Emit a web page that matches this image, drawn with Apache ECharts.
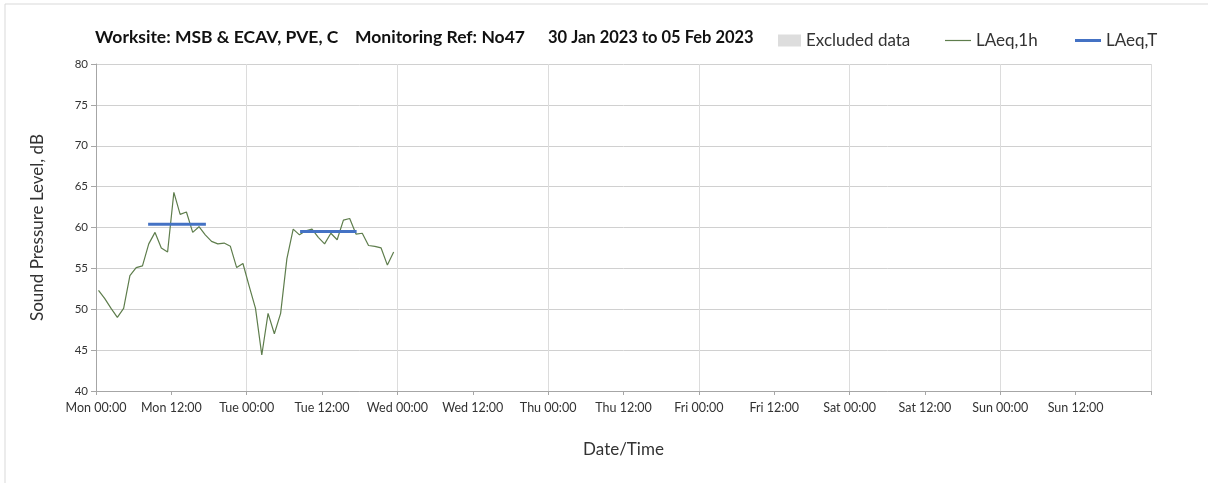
<!DOCTYPE html>
<html>
<head>
<meta charset="utf-8">
<script src="https://cdn.jsdelivr.net/npm/echarts@6/dist/echarts.min.js"></script>
<style>
  html, body { margin: 0; padding: 0; background: #fff; }
  #chart { width: 1208px; height: 483px; }
</style>
</head>
<body>
<div id="chart"></div>
<script>
// 时间轴标签（每12小时）
var tickLabels = ['Mon 00:00', 'Mon 12:00', 'Tue 00:00', 'Tue 12:00', 'Wed 00:00', 'Wed 12:00',
  'Thu 00:00', 'Thu 12:00', 'Fri 00:00', 'Fri 12:00', 'Sat 00:00', 'Sat 12:00', 'Sun 00:00', 'Sun 12:00']

// LAeq,1h 逐小时数据（从周一 00:00 起，单位 dB）
var firstHour = 0.4
var laeq1h = [52.3, 51.3, 50.1, 49.0, 50.1, 54.1, 55.1, 55.3, 58.0, 59.4, 57.5, 57.0,
  64.3, 61.6, 61.9, 59.4, 60.1, 59.1, 58.3, 58.0, 58.1, 57.7, 55.1, 55.6,
  52.8, 50.1, 44.4, 49.5, 47.0, 49.5, 56.2, 59.8, 59.1, 59.6, 59.8, 58.8,
  58.0, 59.3, 58.5, 60.9, 61.1, 59.2, 59.3, 57.8, 57.7, 57.5, 55.4, 57.0]

// LAeq,T 时段
var laeqTStart = [8.3, 32.5]
var laeqTEnd = [17.5, 41.5]
var laeqTValue = [60.4, 59.5]

var lineData = laeq1h.map(function(v, i) { return [firstHour + i, v] })

var series = [{
  name: 'Excluded data',
  type: 'scatter',
  data: [],
  itemStyle: { color: '#d4d4d4' }
}, {
  name: 'LAeq,1h',
  type: 'line',
  symbol: 'none',
  data: lineData,
  lineStyle: { width: 1.2, color: '#5e7d4c' },
  itemStyle: { color: '#5e7d4c' },
  z: 3
}]
laeqTStart.forEach(function(s, i) {
  series.push({
    name: 'LAeq,T',
    type: 'line',
    symbol: 'none',
    data: [[s, laeqTValue[i]], [laeqTEnd[i], laeqTValue[i]]],
    lineStyle: { width: 3, color: '#4472c4' },
    itemStyle: { color: '#4472c4' },
    z: 4
  })
})

var font = 'Lato, "Open Sans", sans-serif'
var legendText = { fontSize: 17, color: '#333', fontFamily: font }

var option = {
  animation: false,
  textStyle: { fontFamily: font },
  graphic: [{
    type: 'rect',
    shape: { x: 5, y: 4, width: 1400, height: 700 },
    style: { fill: 'none', stroke: '#d9d9d9', lineWidth: 1 }
  }],
  title: [
    { text: 'Worksite: MSB & ECAV, PVE, C', left: 90, top: 23, size: 17.5 },
    { text: 'Monitoring Ref: No47', left: 350, top: 23, size: 17.5 },
    { text: '30 Jan 2023 to 05 Feb 2023', left: 543, top: 24, size: 16.5 }
  ].map(function(t) {
    t.textStyle = { fontSize: t.size, fontWeight: 'bold', color: '#111', fontFamily: font }
    delete t.size
    return t
  }),
  legend: [
    { data: [{ name: 'Excluded data', icon: 'rect' }], left: 773, top: 27, itemWidth: 23, itemHeight: 12, itemGap: 4, textStyle: legendText },
    { data: [{ name: 'LAeq,1h', icon: 'rect' }], left: 940, top: 27, itemWidth: 26, itemHeight: 1.2, textStyle: legendText },
    { data: [{ name: 'LAeq,T', icon: 'rect' }], left: 1070, top: 27, itemWidth: 26, itemHeight: 3, textStyle: legendText }
  ],
  grid: {
    left: 96,
    right: 57,
    top: 64,
    bottom: 92
  },
  xAxis: {
    type: 'value',
    min: 0,
    max: 168,
    interval: 12,
    name: 'Date/Time',
    nameLocation: 'middle',
    nameGap: 50,
    nameTextStyle: { fontSize: 17, color: '#333' },
    axisLine: { lineStyle: { color: '#a6a6a6' } },
    axisTick: { show: true, length: 4, lineStyle: { color: '#a6a6a6' } },
    axisLabel: {
      fontSize: 12.5,
      color: '#333',
      margin: 10,
      formatter: function(v) { return tickLabels[v / 12] || '' }
    },
    splitLine: {
      show: true,
      lineStyle: { color: ['#dcdcdc', 'rgba(0,0,0,0)'] }
    }
  },
  yAxis: {
    type: 'value',
    min: 40,
    max: 80,
    interval: 5,
    name: 'Sound Pressure Level, dB',
    nameLocation: 'middle',
    nameGap: 50,
    nameTextStyle: { fontSize: 17, color: '#333' },
    axisLine: { show: true, lineStyle: { color: '#a6a6a6' } },
    axisTick: { show: true, length: 5, lineStyle: { color: '#a6a6a6' } },
    axisLabel: { fontSize: 11.5, color: '#333', margin: 8 },
    splitLine: { lineStyle: { color: '#d0d0d0' } }
  },
  series: series
}

var chart = echarts.init(document.getElementById('chart'))
chart.setOption(option)
</script>
</body>
</html>
